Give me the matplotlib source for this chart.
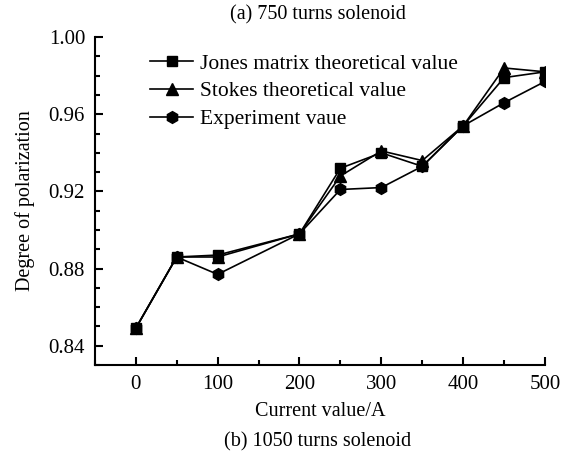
import numpy as np
import matplotlib.pyplot as plt
from matplotlib.ticker import MultipleLocator

plt.rcParams['font.family'] = ['Liberation Serif', 'DejaVu Serif']

current = [0, 50, 100, 200, 250, 300, 350, 400, 450, 500]
jones = [0.849, 0.886, 0.887, 0.898, 0.932, 0.940, 0.933, 0.954, 0.979, 0.982]
stokes = [0.849, 0.886, 0.886, 0.898, 0.928, 0.941, 0.936, 0.954, 0.984, 0.982]
experiment = [0.849, 0.886, 0.877, 0.898, 0.921, 0.922, 0.933, 0.954, 0.966, 0.977]

fig = plt.figure(figsize=(5.78, 4.58), dpi=100)
ax = fig.add_axes([0.164, 0.203, 0.779, 0.716])

ax.plot(current, jones, color='black', lw=1.2, marker='s', ms=7.5, label='Jones matrix theoretical value')
ax.plot(current, stokes, color='black', lw=1.2, marker='^', ms=8.5, label='Stokes theoretical value')
ax.plot(current, experiment, color='black', lw=1.2, marker='h', ms=8.5, label='Experiment vaue')

ax.set_xlim(-50, 500)
ax.set_ylim(0.83, 1.00)
ax.xaxis.set_major_locator(MultipleLocator(100))
ax.xaxis.set_minor_locator(MultipleLocator(50))
ax.yaxis.set_major_locator(MultipleLocator(0.04))
ax.yaxis.set_minor_locator(MultipleLocator(0.01))
ax.yaxis.set_major_formatter(plt.FormatStrFormatter('%.2f'))

for s in ['top', 'right']:
    ax.spines[s].set_visible(False)
for s in ['left', 'bottom']:
    ax.spines[s].set_linewidth(1.5)
ax.tick_params(which='major', direction='in', length=6, width=1.5, labelsize=15, pad=7)
ax.tick_params(which='minor', direction='in', length=3.5, width=1.5)

ax.set_xlabel('Current value/A', fontsize=14.5, labelpad=6)
ax.set_ylabel('Degree of polarization', fontsize=14.5, labelpad=10)

leg = ax.legend(loc='upper left', bbox_to_anchor=(0.09, 0.995), frameon=False, fontsize=15.5,
                handlelength=2.0, handletextpad=0.3, labelspacing=0.35, borderpad=0.2)

fig.text(0.55, 0.968, '(a) 750 turns solenoid', ha='center', va='center', fontsize=14.5)
fig.text(0.55, 0.035, '(b) 1050 turns solenoid', ha='center', va='center', fontsize=14.5)

fig.savefig('out.png', dpi=100)
